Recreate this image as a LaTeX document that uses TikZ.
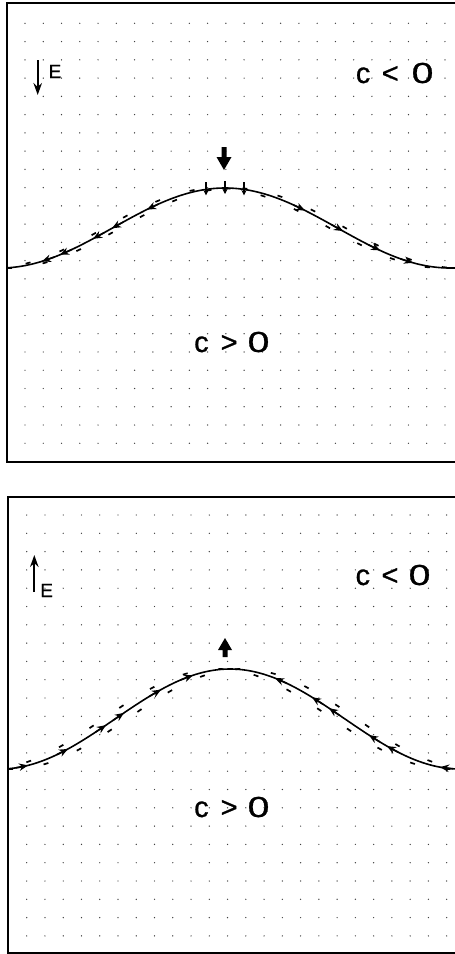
\documentclass[tikz,border=0pt]{standalone}
\usepackage{fontspec}
\setmainfont{Liberation Sans}
\newfontfamily\plotfont[FakeBold=0.8]{Liberation Sans}
\usepackage{graphicx}
\usetikzlibrary{arrows.meta}
\begin{document}
\begin{tikzpicture}[x=1pt,y=-1pt,
  declare function={
    bt(\q)=268-40*(1+cos(180*min(1,abs(\q-225)/225)));
    bb(\q)=769-50*(1+cos(180*min(1,abs(\q-230)/230)));
  },
  frame/.style={line width=1.8pt},
  curve/.style={line width=1.6pt},
  dashcurve/.style={line width=1.7pt, dash pattern=on 5pt off 31pt},
  griddot/.style={fill=black!75},
  tanarrow/.style={line width=1.5pt,-{Stealth[length=9pt,width=7.5pt]}},
  peakarrow/.style={line width=1.3pt,-{Stealth[length=5.5pt,width=5.5pt]}},
  earrow/.style={line width=1.8pt,-{Stealth[length=12pt,width=8.5pt]}},
  lbl/.style={font=\plotfont\fontsize{29}{29}\selectfont, inner sep=0pt, anchor=base west},
  elbl/.style={font=\plotfont\fontsize{19}{19}\selectfont, inner sep=0pt, anchor=base west},
]
\useasboundingbox (0,0) rectangle (455,954);

% ---------------- grid dots ----------------
\foreach \i in {0,...,23}{
  \foreach \j in {0,...,23}{
    \fill[griddot] (25+18.26*\i, 23.3+18.26*\j) circle (0.7pt);
    \fill[griddot] (26.7+18.26*\i, 515+18.3*\j) circle (0.7pt);
  }
}

% ---------------- frames ----------------
\draw[frame] (455,3) -- (7,3) -- (7,462) -- (455,462);
\draw[frame] (455,497) -- (8,497) -- (8,953) -- (455,953);

% ---------------- top panel curves ----------------
\draw[curve] plot[domain=7:455, samples=180] (\x, {bt(\x)});
\draw[dashcurve] plot[domain=7:455, samples=180] (\x, {bt(\x-8)});
\draw[dashcurve, dash phase=17pt] plot[domain=7:455, samples=180] (\x, {bt(\x+8)});

% tangent arrows (top), pointing away from the crest
\foreach \xt/\dir in {42/-1, 60/-1, 93/-1, 112/-1, 147/-1, 305/1, 343/1, 380/1, 413/1}{
  \pgfmathsetmacro\slp{40*pi/225*sin(180*((\xt-225)/225))}
  \pgfmathsetmacro\nn{sqrt(1+\slp*\slp)}
  \pgfmathsetmacro\tx{\xt-13*(\dir)/\nn}
  \pgfmathsetmacro\ty{bt(\tx)}
  \pgfmathsetmacro\hy{bt(\xt)}
  \coordinate (ta) at (\tx,\ty);
  \coordinate (tb) at (\xt,\hy);
  \draw[tanarrow] (ta) -- (tb);
}
% small downward arrows at the crest (top)
\foreach \xt in {206,225,244}{
  \pgfmathsetmacro\hy{bt(\xt)}
  \coordinate (pa) at (\xt,\hy-7);
  \coordinate (pb) at (\xt,\hy+6);
  \draw[peakarrow] (pa) -- (pb);
}

% big arrow (top)
\fill (221.5,147) -- (226.5,147) -- (226.5,157) -- (231.5,157) -- (224,170)
  -- (216.5,157) -- (221.5,157) -- cycle;

% E arrow (top)
\coordinate (eta) at (37.7,60);
\coordinate (etb) at (37.7,95);
\draw[earrow] (eta) -- (etb);
\node[elbl] (etop) at (48.4,78) {E};

% labels (top)
\node[lbl] (ctl) at (355.7,83) {c\hspace{11.4pt}<\hspace{12.9pt}\scalebox{1.35}[1]{0}};
\node[lbl] (ctg) at (194,352) {c\hspace{12pt}>\hspace{10pt}\scalebox{1.35}[1]{0}};

% ---------------- bottom panel curves ----------------
\draw[curve] plot[domain=8:455, samples=180] (\x, {bb(\x)});
\draw[dashcurve] plot[domain=8:455, samples=180] (\x, {bb(\x-12)});
\draw[dashcurve, dash phase=17pt] plot[domain=8:455, samples=180] (\x, {bb(\x+12)});

% tangent arrows (bottom), pointing towards the crest
\foreach \xt/\dir in {28/1, 68/1, 106/1, 124/1, 161/1, 193/1, 275/-1, 312/-1, 329/-1, 369/-1, 387/-1, 440/-1}{
  \pgfmathsetmacro\slp{50*pi/230*sin(180*((\xt-230)/230))}
  \pgfmathsetmacro\nn{sqrt(1+\slp*\slp)}
  \pgfmathsetmacro\tx{\xt-13*(\dir)/\nn}
  \pgfmathsetmacro\ty{bb(\tx)}
  \pgfmathsetmacro\hy{bb(\xt)}
  \coordinate (ba) at (\tx,\ty);
  \coordinate (bbp) at (\xt,\hy);
  \draw[tanarrow] (ba) -- (bbp);
}

% big arrow (bottom)
\fill (222.5,657) -- (227.5,657) -- (227.5,650) -- (232,650) -- (225,638)
  -- (218,650) -- (222.5,650) -- cycle;

% E arrow (bottom)
\coordinate (eba) at (34.3,592);
\coordinate (ebb) at (34.3,555);
\draw[earrow] (eba) -- (ebb);
\node[elbl] (ebot) at (40.1,597) {E};

% labels (bottom)
\node[lbl] (cbl) at (355.4,585) {c\hspace{11.4pt}<\hspace{10.2pt}\scalebox{1.35}[1]{0}};
\node[lbl] (cbg) at (194,817) {c\hspace{12pt}>\hspace{10pt}\scalebox{1.35}[1]{0}};
\end{tikzpicture}
\end{document}
